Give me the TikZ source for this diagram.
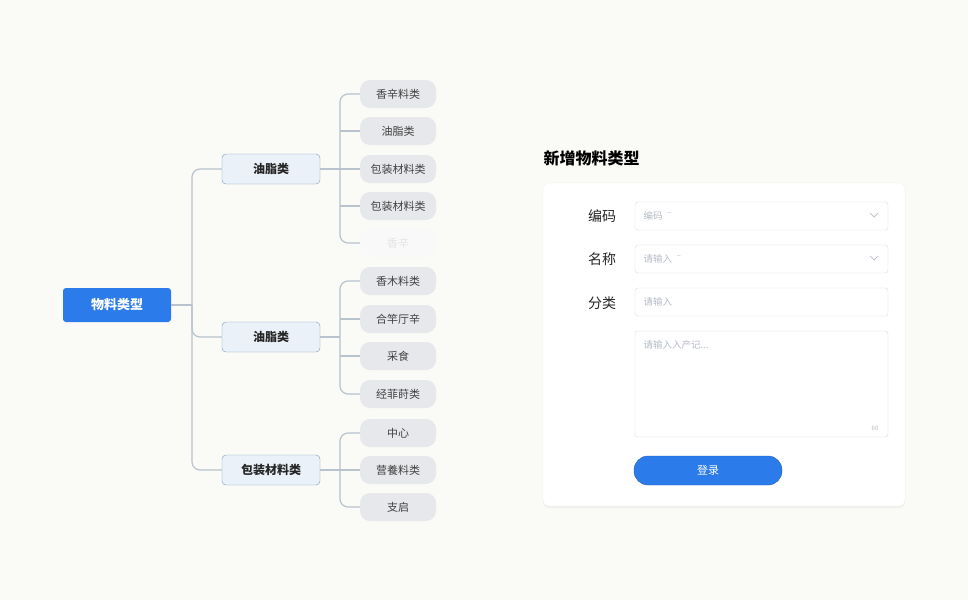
\documentclass[tikz,border=0pt]{standalone}
\usepackage{fontspec}
\setmainfont{Noto Sans CJK SC}
\usetikzlibrary{shadows}
\definecolor{bg}{HTML}{FAFAF6}
\definecolor{mainblue}{HTML}{2B7BEA}
\definecolor{midfill}{HTML}{EAF1F8}
\definecolor{midline}{HTML}{7F9BBB}
\definecolor{leaffill}{HTML}{E6E8EB}
\definecolor{linkgray}{HTML}{B9C3CE}
\definecolor{fieldline}{HTML}{DADFE6}
\definecolor{hint}{HTML}{B5BCC6}
\tikzset{
	rootbox/.style={rounded corners=3pt, fill=mainblue, text=white, font=\bfseries\fontsize{13}{15}\selectfont, minimum width=108pt, minimum height=34pt},
	midbox/.style={rounded corners=4pt, draw=midline, fill=midfill, text=black!85, font=\bfseries\fontsize{12}{14}\selectfont, minimum width=98pt, minimum height=30pt},
	leafbox/.style={rounded corners=10pt, fill=leaffill, text=black!75, font=\fontsize{11}{13}\selectfont, minimum width=76pt, minimum height=28pt},
	link/.style={draw=linkgray, line width=1.2pt, rounded corners=8pt},
	fieldbox/.style={draw=fieldline, rounded corners=3pt, fill=white},
	hinttext/.style={text=hint, font=\fontsize{9.5}{11}\selectfont, anchor=west},
	formlabel/.style={font=\fontsize{14}{16}\selectfont, text=black!85}
}
\begin{document}
\begin{tikzpicture}[x=1pt, y=-1pt]
	\fill[bg] (0,0) rectangle (968,600);
	\useasboundingbox (0,0) rectangle (968,600);

	% mind map
	\node[rootbox] (root) at (117,305) {物料类型};
	\node[midbox] (m1) at (271,169) {油脂类};
	\node[midbox] (m2) at (271,337) {油脂类};
	\node[midbox] (m3) at (271,470) {包装材料类};

	\coordinate (trunk) at (192,305);
	\draw[link] (root.east) -- (trunk);
	\foreach \m in {m1,m2,m3}
		\draw[link] (trunk) |- (\m.west);

	\foreach \name/\y/\txt in {l1/94/香辛料类, l2/131/油脂类, l3/169/包装材料类, l4/206/包装材料类,
		l6/281/香木料类, l7/319/合竿厅辛, l8/356/采食, l9/394/经菲莳类,
		l10/433/中心, l11/470/营養料类, l12/507/支启}
		\node[leafbox] (\name) at (398,\y) {\txt};
	\node[leafbox, fill=leaffill!25, text=black!10] (l5) at (398,243) {香辛};

	\foreach \m/\a/\b in {m1/l1/l5, m2/l6/l9, m3/l10/l12}{
		\coordinate (j\m) at (340,0 |- \m.east);
		\draw[link] (\m.east) -- (j\m);
		\draw[link] (\a.west) -| (j\m) |- (\b.west);
	}
	\foreach \l in {l2,l3,l4,l7,l8,l11}
		\draw[link] (340,0 |- \l.west) -- (\l.west);

	% form
	\node[anchor=west, font=\bfseries\fontsize{16}{18}\selectfont] (title) at (540,158) {新增物料类型};
	\filldraw[draw=black!6, fill=white, rounded corners=6pt, drop shadow={opacity=0.08, shadow xshift=0pt, shadow yshift=-2pt}] (543,183) rectangle (905,506);

	\node[formlabel] (lab1) at (602,216) {编码};
	\node[formlabel] (lab2) at (602,259) {名称};
	\node[formlabel] (lab3) at (602,303) {分类};

	\draw[fieldbox] (635,202) rectangle (888,230);
	\draw[fieldbox] (635,245) rectangle (888,273);
	\draw[fieldbox] (635,288) rectangle (888,316);
	\draw[fieldbox] (635,331) rectangle (888,437);
	\node[hinttext] (h1) at (640,216) {编码 ˉ};
	\node[hinttext] (h2) at (640,259) {请输入 ˉ};
	\node[hinttext] (h3) at (640,302) {请输入};
	\node[hinttext] (h4) at (640,345) {请输入入产记...};
	\node[text=hint, font=\fontsize{6}{7}\selectfont] (cnt) at (875,428) {60};
	\draw[hint, line width=0.7pt] (870,213) -- (874,217) -- (878,213);
	\draw[hint, line width=0.7pt] (870,256) -- (874,260) -- (878,256);

	\filldraw[fill=mainblue, draw=mainblue!80!black, rounded corners=14pt] (634,456) rectangle (782,485);
	\node[text=white, font=\fontsize{11}{13}\selectfont] (btn) at (708,470.5) {登录};
\end{tikzpicture}
\end{document}
